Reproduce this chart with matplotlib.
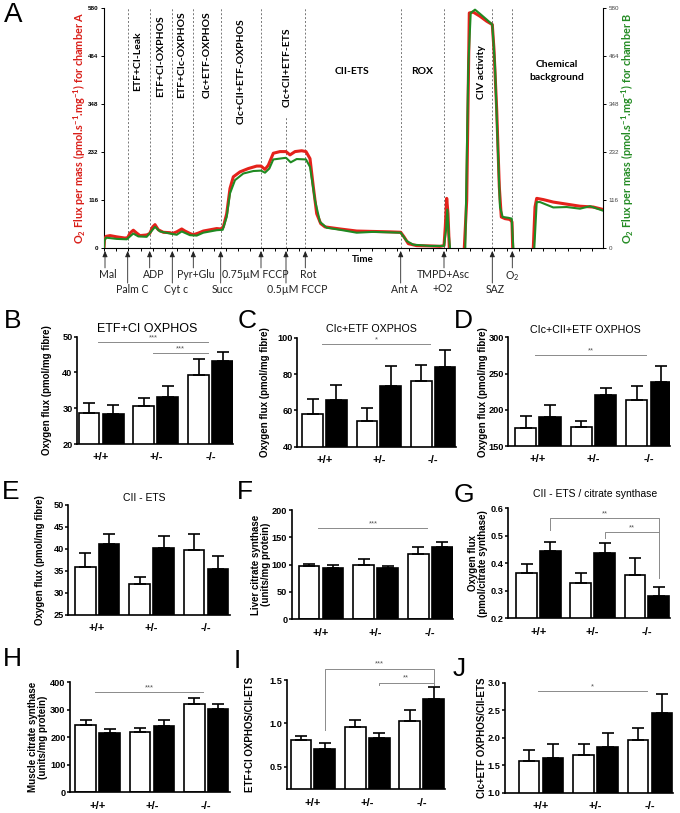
import numpy as np
import matplotlib
matplotlib.use('Agg')
import matplotlib.pyplot as plt
from matplotlib.ticker import FormatStrFormatter

plt.rcParams['font.family'] = ['Liberation Sans', 'DejaVu Sans']
plt.rcParams['mathtext.default'] = 'regular'

nan = float('nan')

# ---------------- Panel A data (oxygraph traces) ----------------
red_t = [0, 0.5, 2, 6, 12.7, 21, 23.7, 26, 29.3, 32.7, 36, 42.7, 45.7, 48.7, 51, 54.3, 59.3, 66, 68.3, 72.7,
         77.7, 81, 86, 89.3, 94.3, 99.3, 106, 112.7, 116.7, 119.3, 122.7, 126, 129.3, 136, 144.3, 152.7, 157,
         161, 164.3, 169.3, 176, 182, 186, 191, 197.7, 202, 206, 209.3, 212.7, 216.7, 221, 236, 252.7, 269.3,
         286, 296.7, 300, 304.3, 312.7, 326, 336, 340, 341.3, 342.7, 344, 345.3, nan, 360.3, 362.7, 365.3,
         369.3, 376, 382.7, 388.3, 390, 392.7, 395.3, 397.3, 401, 406, 408, 408.7, nan, 429.3, 431, 432.7,
         439.3, 449.3, 462.7, 476, 489.3, 499.3]
red_v = [0, 20, 28, 30, 27, 24, 25, 36, 43, 36, 30, 31.5, 35, 51, 56.5, 44, 38, 37, 35, 39,
         46, 41, 35, 32, 36, 41, 44, 47, 46, 51, 83, 144, 172, 184, 192, 198, 198,
         190, 200, 229, 233, 233, 225, 233, 235, 233, 216, 148, 83, 59, 51, 46, 41, 40,
         39, 38, 27, 10.5, 5.7, 5, 4, 5.7, 51, 120, 83, 0, nan, 0, 115, 568,
         570, 560, 548, 540, 479, 334, 148, 75, 71, 69, 63, 0, nan, 0, 99, 120,
         117, 111, 106, 101, 99, 93]
green_t = [0, 0.5, 2, 12.7, 22.7, 29.3, 34.3, 42.7, 51, 56, 66, 72.7, 77.7, 86, 92.7, 99.3, 112.7, 118.7,
           122.7, 126, 131, 139.3, 149.3, 157, 161, 165.3, 169.3, 182, 186.7, 192.7, 202, 206, 211, 216,
           222.7, 236, 252.7, 269.3, 296.7, 302.7, 309.3, 326, 340, 342, 343.3, 344.7, 346, nan, 361.3,
           364.3, 366.7, 371, 376, 382.7, 388.3, 391, 393.3, 396, 398.7, 404.3, 407.7, 409.3, nan, 430.3,
           432.7, 436, 449.3, 462.7, 476, 486, 499.3]
green_v = [0, 18, 25, 22, 21, 35, 28, 27, 51, 40, 35, 32, 40, 31, 30, 37, 43, 44,
           75, 132, 164, 180, 186, 187, 182, 192, 214, 218, 207, 215, 214, 196, 115, 63,
           49, 44, 37, 39, 37, 17, 8, 5, 5, 43, 93, 35, 0, nan, 0,
           439, 568, 576, 566, 552, 540, 439, 277, 99, 75, 73, 71, 0, nan, 0,
           111, 111, 98, 99, 95, 101, 90]
A_yticks = [0, 116, 232, 348, 464, 580]

event_names = ['Mal', 'Palm C', 'ADP', 'Cyt c', 'Pyr+Glu', 'Succ', '0.75\u00b5M FCCP', '0.5\u00b5M FCCP',
               'Rot', 'Ant A', 'TMPD+Asc\n+O2', 'SAZ', 'O$_2$']
event_times = [1, 23.7, 45.7, 68.3, 89.3, 116.7, 157, 182, 201.3, 296.7, 340, 388.3, 408.3]
event_row = [0, 1, 0, 1, 0, 1, 0, 1, 0, 1, 0, 1, 0]
label_dx = [3, 5, 4, 4, 3, 2, -6, 11, 3, 4, -1, 3, 0]

region_labels = ['ETF+CI-Leak', 'ETF+CI-OXPHOS', 'ETF+CIc-OXPHOS', 'CIc+ETF-OXPHOS',
                 'CIc+CII+ETF-OXPHOS', 'CIc+CII+ETF-ETS', 'CII-ETS', 'ROX', 'CIV activity',
                 'Chemical\nbackground']
region_pos = [(138, 61), (161, 56), (182, 55), (207, 55), (241, 71), (287, 67), (352, 72),
              (422, 72), (482, 72), (557, 71)]
region_rot = [90, 90, 90, 90, 90, 90, 0, 0, 90, 0]

# ---------------- Bar panels data ----------------
genotypes = ['+/+', '+/-', '-/-']

B_white = [28.7, 30.5, 39.3]; B_white_err = [2.8, 2.4, 4.5]
B_black = [28.3, 33.2, 43.2]; B_black_err = [2.6, 2.9, 2.6]
C_white = [58.0, 54.1, 76.0]; C_white_err = [8.2, 7.4, 8.8]
C_black = [65.7, 73.4, 83.9]; C_black_err = [8.2, 11.0, 9.5]
D_white = [174.4, 176.7, 213.5]; D_white_err = [17.5, 8.3, 19.3]
D_black = [190.5, 220.0, 238.8]; D_black_err = [16.1, 10.5, 21.6]
E_white = [36.0, 32.0, 39.8]; E_white_err = [3.0, 1.6, 3.5]
E_black = [41.1, 40.3, 35.4]; E_black_err = [2.3, 2.7, 2.9]
F_white = [98.0, 100.0, 119.5]; F_white_err = [3.8, 10.4, 13.5]
F_black = [94.5, 94.5, 131.7]; F_black_err = [4.9, 3.1, 9.2]
G_white = [0.366, 0.327, 0.358]; G_white_err = [0.030, 0.037, 0.062]
G_black = [0.446, 0.436, 0.282]; G_black_err = [0.030, 0.039, 0.033]
H_white = [245, 219, 320]; H_white_err = [18, 14, 24]
H_black = [214.5, 242, 303]; H_black_err = [17, 20, 18]
I_white = [0.804, 0.958, 1.027]; I_white_err = [0.050, 0.077, 0.127]
I_black = [0.700, 0.831, 1.281]; I_black_err = [0.069, 0.057, 0.134]
J_white = [1.582, 1.679, 1.958]; J_white_err = [0.194, 0.200, 0.222]
J_black = [1.636, 1.836, 2.455]; J_black_err = [0.243, 0.255, 0.339]

# significance: (x_left, x_right, y_line, y_left_end, y_right_end, stars)
B_sig = [(-0.05, 1.95, 48.5, None, None, '***'), (0.95, 1.95, 45.4, None, None, '***')]
C_sig = [(-0.05, 1.95, 96.5, None, None, '*')]
D_sig = [(-0.05, 1.95, 275.6, None, None, '**')]
F_sig = [(-0.05, 1.95, 167, None, None, '***')]
G_sig = [(0.22, 2.22, 0.565, 0.521, 0.345, '**'), (1.22, 2.22, 0.514, 0.492, 0.514, '**')]
H_sig = [(-0.05, 1.95, 364.7, None, None, '***')]
I_sig = [(0.22, 2.22, 1.63, 0.92, 1.44, '***'), (1.22, 2.22, 1.47, 1.44, 1.47, '**')]
J_sig = [(-0.05, 1.95, 2.85, None, None, '*')]

# ---------------- figure ----------------
W, H = 680, 813
fig = plt.figure(figsize=(W / 100, H / 100), dpi=100)


def axes_px(x0, y0, x1, y1):
    return fig.add_axes([x0 / W, 1 - y1 / H, (x1 - x0) / W, (y1 - y0) / H])


def ftext(x, y, s, **kw):
    return fig.text(x / W, 1 - y / H, s, **kw)


LATO = ['Lato', 'DejaVu Sans']

# ----- Panel A -----
axA = axes_px(104, 8, 603, 248)
axA.set_xlim(0, 499)
axA.set_ylim(0, 580)
axA.plot(red_t, red_v, color='#e4221b', lw=2.2, solid_joinstyle='round', zorder=3)
axA.plot(green_t, green_v, color='#1f8a22', lw=1.5, solid_joinstyle='round', zorder=4)
for name, t in zip(event_names[1:], event_times[1:]):
    ymax = 0.55 if name.startswith('0.5') else 1.0
    axA.axvline(t, ymin=0, ymax=ymax, color='#777777', lw=0.7, ls=(0, (2, 2)), zorder=1)
axA.spines['top'].set_visible(False)
for s in ['left', 'right', 'bottom']:
    axA.spines[s].set_linewidth(0.8)
axA.set_yticks(A_yticks)
axA.set_yticklabels([str(v) for v in A_yticks])
axA.tick_params(axis='y', which='both', left=True, right=True, labelleft=True, labelright=True,
                length=2.5, width=0.7, labelsize=4.5, pad=1.5)
for tk in axA.yaxis.get_major_ticks():
    tk.label1.set_fontweight('bold')
    tk.label2.set_color('#444444')
axA.set_xticks(np.arange(0, 499, 12.2))
axA.set_xticklabels([])
axA.tick_params(axis='x', length=2.5, width=0.7)

trA = axA.get_xaxis_transform()
for name, t, row, dx in zip(event_names, event_times, event_row, label_dx):
    y_end = -0.083 if row == 0 else -0.146
    axA.annotate('', xy=(t, -0.012), xycoords=trA, xytext=(t, y_end), textcoords=trA,
                 arrowprops=dict(arrowstyle='-|>,head_length=0.35,head_width=0.15', color='#222222',
                                 lw=0.6, shrinkA=0, shrinkB=0), annotation_clip=False)
    xpx = 104 + t + dx
    ypx = 269 if row == 0 else 284
    ftext(xpx, ypx, name, ha='center', va='top', fontsize=7.6, family=LATO, linespacing=1.35,
          color='#222222')

for lab, (x, y), rot in zip(region_labels, region_pos, region_rot):
    ftext(x, y, lab, rotation=rot, ha='center', va='center', fontsize=7.5, fontweight='bold',
          family=LATO, linespacing=1.5)

ftext(363, 260, 'Time', ha='center', va='center', fontsize=7, fontweight='bold', family=LATO)
ftext(80, 128, 'O$_2$ Flux per mass (pmol.s$^{-1}$.mg$^{-1}$) for chamber A', rotation=90,
      ha='center', va='center', fontsize=7.8, fontweight='bold', family=LATO, color='#d91e18')
ftext(628, 128, 'O$_2$ Flux per mass (pmol.s$^{-1}$.mg$^{-1}$) for chamber B', rotation=90,
      ha='center', va='center', fontsize=7.8, fontweight='bold', family=LATO, color='#238b23')
ftext(13, 15, 'A', ha='center', va='center', fontsize=20)


# ----- Bar panels -----
def bar_panel(letter, letter_xy, rect, xlim, ylim, yticks, fmt, white, werr, black, berr,
              ylabel, ylabel_x, title=None, title_xy=None, title_fs=7.7, sig=()):
    ax = axes_px(*rect)
    x = np.arange(len(genotypes))
    ax.bar(x - 0.22, white, 0.38, color='white', edgecolor='black', lw=1.2, zorder=2)
    ax.bar(x + 0.22, black, 0.38, color='black', edgecolor='black', lw=1.2, zorder=2)
    ax.errorbar(x - 0.22, white, yerr=[np.zeros(3), werr], fmt='none', ecolor='black',
                elinewidth=1.2, capsize=4, capthick=1.2, zorder=3)
    ax.errorbar(x + 0.22, black, yerr=[np.zeros(3), berr], fmt='none', ecolor='black',
                elinewidth=1.2, capsize=4, capthick=1.2, zorder=3)
    ax.set_xlim(*xlim)
    ax.set_ylim(*ylim)
    ax.set_yticks(yticks)
    if fmt:
        ax.yaxis.set_major_formatter(FormatStrFormatter(fmt))
    ax.set_xticks(x)
    ax.set_xticklabels(genotypes, fontsize=8, fontweight='bold')
    ax.tick_params(axis='x', length=0, pad=6)
    ax.tick_params(axis='y', length=2.4, width=1.1, labelsize=6.6, pad=0.8)
    for tl in ax.get_yticklabels():
        tl.set_fontweight('bold')
    for s in ['top', 'right']:
        ax.spines[s].set_visible(False)
    for s in ['left', 'bottom']:
        ax.spines[s].set_linewidth(1.2)
    span = ylim[1] - ylim[0]
    for (xl, xr, yl, yle, yre, stars) in sig:
        xs = [xl, xr]
        ys = [yl, yl]
        if yle is not None:
            xs = [xl] + xs
            ys = [yle] + ys
        if yre is not None:
            xs = xs + [xr]
            ys = ys + [yre]
        ax.plot(xs, ys, color='#8a8a8a', lw=0.7, clip_on=False, zorder=4)
        ax.text((xl + xr) / 2, yl + span * 0.008, stars, ha='center', va='bottom', fontsize=5.5,
                color='#555555', clip_on=False)
    yc = (rect[1] + rect[3]) / 2
    ftext(ylabel_x, yc, ylabel, rotation=90, ha='center', va='center', fontsize=7,
          fontweight='bold', linespacing=1.1)
    if title:
        ftext(title_xy[0], title_xy[1], title, ha='center', va='center', fontsize=title_fs)
    ftext(letter_xy[0], letter_xy[1], letter, ha='center', va='center', fontsize=19)
    return ax


OF = 'Oxygen flux (pmol/mg fibre)'
bar_panel('B', (13, 321), (77, 336.7, 233, 444), (-0.44, 2.41), (20, 50), [20, 30, 40, 50], None,
          B_white, B_white_err, B_black, B_black_err, OF, 47, 'ETF+CI OXPHOS', (147, 329), 9, B_sig)
bar_panel('C', (247, 321), (297.3, 337.7, 456, 446.7), (-0.50, 2.42), (40, 100), [40, 60, 80, 100], None,
          C_white, C_white_err, C_black, C_black_err, OF, 265, 'CIc+ETF OXPHOS', (371, 329), 7.7, C_sig)
bar_panel('D', (463, 321), (508.3, 337.3, 670, 446), (-0.53, 2.375), (150, 300), [150, 200, 250, 300],
          None, D_white, D_white_err, D_black, D_black_err, OF, 483, 'CIc+CII+ETF OXPHOS', (585, 330),
          7.7, D_sig)
bar_panel('E', (11, 492), (68.3, 505, 229.5, 615), (-0.53, 2.43), (25, 50), [25, 30, 35, 40, 45, 50],
          None, E_white, E_white_err, E_black, E_black_err, OF, 40, 'CII - ETS', (144, 498), 7.5)
bar_panel('F', (245, 492), (291.7, 510, 452.5, 619.3), (-0.54, 2.41), (0, 200), [0, 50, 100, 150, 200],
          None, F_white, F_white_err, F_black, F_black_err,
          'Liver citrate synthase\n(units/mg protein)', 261, sig=F_sig)
bar_panel('G', (464, 495), (508.3, 508.3, 670, 618.3), (-0.56, 2.43), (0.2, 0.6),
          [0.2, 0.3, 0.4, 0.5, 0.6], '%.1f', G_white, G_white_err, G_black, G_black_err,
          'Oxygen flux\n(pmol/citrate synthase)', 478, 'CII - ETS / citrate synthase', (595, 494),
          7.5, G_sig)
bar_panel('H', (12, 659), (70, 682.3, 230, 792.3), (-0.51, 2.44), (0, 400), [0, 100, 200, 300, 400],
          None, H_white, H_white_err, H_black, H_black_err,
          'Muscle citrate synthase\n(units/mg protein)', 38, sig=H_sig)
bar_panel('I', (237, 661), (286.7, 680, 445, 789.3), (-0.48, 2.43), (0.24, 1.5), [0.5, 1.0, 1.5], '%.1f',
          I_white, I_white_err, I_black, I_black_err, 'ETF+CI OXPHOS/CII-ETS', 250, sig=I_sig)
bar_panel('J', (459, 669), (505, 682.7, 673, 792.7), (-0.66, 2.42), (1.0, 3.0),
          [1.0, 1.5, 2.0, 2.5, 3.0], '%.1f', J_white, J_white_err, J_black, J_black_err,
          'CIc+ETF OXPHOS/CII-ETS', 482, sig=J_sig)

fig.savefig('out.png', dpi=100)
